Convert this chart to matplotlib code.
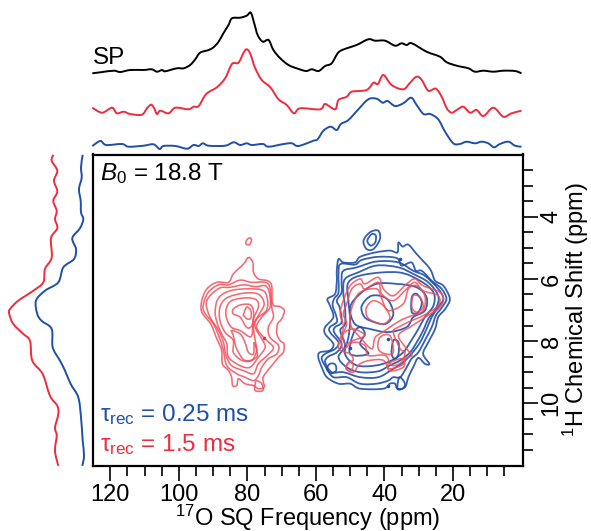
import numpy as np
import matplotlib
matplotlib.use('Agg')
import matplotlib.pyplot as plt
from matplotlib.path import Path
from matplotlib.patches import PathPatch

plt.rcParams['font.family'] = ['Liberation Sans', 'DejaVu Sans']
plt.rcParams['mathtext.fontset'] = 'custom'
plt.rcParams['mathtext.rm'] = 'Liberation Sans'
plt.rcParams['mathtext.it'] = 'Liberation Sans:italic'
plt.rcParams['mathtext.bf'] = 'Liberation Sans:bold'

# 17O projections: (ppm, intensity)
sp_trace = [(125.25,80.7),(122.9,81.7),(119.0,83.3),(117.1,82),(114.2,84),(110.3,84),(107.9,84.7),(106.4,82.3),(104.9,84),(104,82.7),(100.6,85.7),(98.6,85.7),(96.7,89),(95.2,94.7),(93.8,101.3),(91.3,104),(89.9,106.7),(88.4,112.3),(87.0,120.7),(85.5,129),(84.5,135.7),(82.1,136.3),(80.2,138.3),(79.0,141.3),(78.0,130.7),(77.0,119),(75.5,112.3),(73.8,114),(72.4,104),(70.4,95.7),(68.0,89),(65.6,85.7),(62.9,83),(61.2,84.7),(59.2,83),(57.3,88),(55.4,90.7),(53.4,101.7),(51.0,105.7),(48.1,109),(44.7,114.7),(42.7,113.3),(39.8,113.3),(36.9,108.3),(35.0,110.7),(33.5,109),(32.0,110.7),(27.7,102.3),(23.8,97.3),(21.8,91.7),(18.9,88.3),(15.5,85.7),(13.6,82.3),(11.1,83.3),(8.2,82.3),(5.3,83.3),(1.9,83),(0.0,80.7)]
red_top = [(125.25,46.3),(122.4,41.3),(119.5,46.3),(118.1,40.7),(116.1,42.3),(114.2,40),(110.8,39.3),(109.3,45.7),(108.1,49.3),(107.2,45.7),(106.4,40),(105.4,43.3),(103.0,40.7),(101.0,46.3),(97.2,44.7),(95.7,47.3),(94.2,48),(92.0,60),(88.9,66.7),(86.5,75.7),(84.5,90),(82.6,91.3),(81.1,101.3),(80.2,104.7),(79.2,100.7),(77.7,85.7),(75.8,74),(73.3,66.7),(70.9,54.7),(68.5,49),(66.4,40.7),(64.6,45.7),(58.8,44.7),(57.3,50),(54.4,44.7),(53.4,54),(51.0,57.3),(49.5,62.3),(45.2,64),(43.2,71.3),(41.9,70),(40.3,79),(37.9,69),(34.5,64.7),(32.5,71.3),(30.6,77.3),(29.1,74),(27.2,63.3),(25.0,65.3),(23.3,57.3),(21.8,45.7),(20.4,41.3),(18.9,44),(17.0,47.3),(15.0,41.3),(13.1,44),(11.1,38),(8.2,46.3),(5.3,37.3),(2.9,40.7),(0.0,43.3)]
blue_top = [(125.25,8),(122.9,13),(121.2,9),(116.6,10),(114.7,7.3),(110.3,8.3),(107.4,9.7),(105.6,5),(104.5,8),(101.0,8),(97.6,5.3),(95.7,9),(94.2,8),(93.0,10.7),(91.3,8.3),(86.5,8.3),(84.0,11.7),(82.1,9),(80.2,10.7),(78.7,9),(75.5,10),(73.8,7.3),(69.4,10),(67.0,10.7),(65.1,8),(60.7,13.3),(59.5,14.7),(57.8,23.3),(55.7,27.3),(53.9,24),(52.7,30),(50.5,34),(47.6,44.7),(44.7,54.7),(42.3,55.3),(40.5,51.3),(39.1,53),(36.9,48),(34.5,50.7),(32.2,56.3),(30.6,49),(28.6,40),(26.7,40),(24.3,34.7),(22.3,22.3),(19.9,10.7),(18.0,10),(16.0,12.3),(13.6,10.7),(11.6,12.3),(9.7,10.7),(8.0,6.7),(6.3,10),(3.8,12.3),(1.9,8.3),(0.0,7.3)]

# 1H projections: (intensity, ppm)
red_left = [(38.7,2.01),(40.3,2.2),(34.7,2.52),(38,2.84),(34.7,3.19),(38.7,3.49),(35.3,3.81),(37,4.08),(34.7,4.37),(41,4.69),(40.3,5.31),(47,5.68),(48.7,6.11),(58.7,6.38),(73.7,6.70),(82,6.97),(82.7,7.13),(78.7,7.45),(68.7,7.77),(62,7.99),(59.7,8.63),(49.3,9.06),(42,9.76),(34.7,10.08),(33.7,10.35),(37,10.78),(35.3,11.04),(37,11.53),(33.7,12.01)]
blue_left = [(9.3,2.01),(11,2.41),(10.3,2.74),(13,3.11),(11.3,3.49),(11,3.86),(8.7,4.08),(12,4.37),(19.7,4.69),(16,5.04),(18,5.36),(28.7,5.63),(33.7,6.11),(47,6.38),(56,6.70),(54.7,7.13),(50.3,7.35),(40.3,7.61),(39.3,8.20),(32,8.63),(27,8.95),(21.3,9.38),(13.7,9.81),(11,10.45),(9.3,11.2),(8,11.69),(9.7,12.01)]

# contour outlines: (17O ppm, 1H ppm)
red_contours = [
    [(79.7,5.31),(78.4,5.47),(78.2,5.79),(76.8,6.00),(74.1,6.06),(72.9,6.22),(72.6,6.81),(70.5,6.89),(69.2,7.02),(70.0,7.29),(71.2,7.45),(71.4,7.77),(70.3,8.00),(69.3,8.09),(69.5,8.36),(70.9,8.52),(72.9,8.79),(74.8,9.05),(75.5,9.21),(75.1,9.48),(76.8,9.53),(78.2,9.43),(80.7,9.37),(82.6,9.21),(83.1,9.43),(84.3,9.43),(84.6,9.16),(85.5,8.95),(87.3,8.73),(87.5,8.30),(88.9,7.93),(90.7,7.45),(93.3,7.07),(93.3,6.70),(91.8,6.32),(88.9,6.11),(85.5,6.11),(84.1,5.84),(81.1,5.52)],
    [(92.8,6.81),(91.4,6.43),(88.4,6.19),(85.5,6.19),(82.1,6.04),(78.7,6.11),(74.8,6.11),(73.4,6.29),(72.9,6.91),(72.4,7.23),(73.9,7.56),(73.4,7.88),(70.9,8.14),(71.4,8.41),(73.9,8.57),(75.8,8.84),(76.8,9.11),(78.2,9.27),(80.7,9.16),(83.1,9.05),(86.0,8.79),(87.0,8.30),(88.2,7.88),(89.9,7.45),(92.6,7.07)],
    [(92.0,6.81),(90.9,6.54),(88.0,6.29),(85.0,6.27),(81.1,6.19),(77.7,6.25),(74.8,6.22),(73.6,6.43),(73.4,6.91),(75.8,7.23),(77.3,7.56),(74.8,7.93),(72.4,8.20),(73.9,8.43),(76.8,8.73),(78.2,9.05),(81.1,8.95),(84.6,8.79),(86.2,8.46),(87.0,8.04),(88.4,7.66),(90.9,7.23)],
    [(89.4,7.02),(88.4,6.61),(85.0,6.38),(79.7,6.32),(75.3,6.38),(74.1,6.70),(74.5,7.02),(77.3,7.29),(77.7,7.56),(75.8,7.93),(74.8,8.20),(76.8,8.52),(79.2,8.84),(82.1,8.79),(85.5,8.52),(86.0,8.09),(87.5,7.77),(88.9,7.39)],
    [(88.0,6.91),(86.0,6.61),(81.1,6.46),(76.8,6.49),(75.1,6.81),(76.8,7.18),(78.2,7.50),(77.7,7.98),(77.3,8.30),(78.7,8.62),(81.6,8.62),(84.1,8.36),(84.1,7.98),(86.5,7.72),(88.0,7.34)],
    [(86.2,6.97),(84.6,6.70),(80.2,6.61),(77.3,6.68),(76.8,6.91),(78.2,7.29),(78.9,7.85),(82.1,7.66),(84.6,7.56),(86.0,7.29)],
    [(84.1,6.97),(82.1,6.84),(79.2,6.83),(78.2,7.07),(78.7,7.50),(80.2,7.56),(82.1,7.23),(84.1,7.13)],
    [(81.1,7.13),(80.2,6.91),(79.0,7.02),(79.0,7.26),(80.0,7.29),(81.1,7.18)],
    [(84.6,7.66),(82.1,7.77),(80.7,8.04),(79.7,8.36),(78.2,8.41),(78.0,8.04),(77.2,8.50),(80.7,8.62),(83.1,8.25),(84.1,7.82)],
    [(77.3,9.27),(75.8,9.37),(75.5,9.59),(77.7,9.59),(77.7,9.37)],
    [(80.4,4.88),(80.2,4.75),(79.2,4.68),(78.8,4.77),(79.4,4.90)],
    [(52.0,6.70),(50.0,6.22),(47.1,6.00),(45.7,6.16),(41.8,5.95),(40.3,6.32),(37.4,6.54),(33.5,6.16),(31.1,6.00),(28.7,6.22),(23.8,6.43),(22.8,6.70),(24.3,6.97),(26.7,7.13),(29.6,7.34),(32.5,7.55),(35.9,7.82),(33.5,8.25),(32.0,8.46),(34.0,8.57),(34.5,8.84),(38.4,8.95),(40.3,8.62),(44.2,8.62),(47.1,8.73),(49.1,9.00),(51.2,8.89),(50.5,8.68),(49.1,8.62),(50.0,8.41),(52.9,8.30),(53.4,8.09),(52.0,7.55),(52.9,7.13)],
    [(51.0,6.80),(49.5,6.32),(47.1,6.16),(45.7,6.32),(41.8,6.11),(40.8,6.48),(37.4,6.70),(33.5,6.32),(31.1,6.11),(28.7,6.38),(24.3,6.54),(24.3,6.86),(28.7,7.18),(32.0,7.34),(35.9,7.55),(37.4,7.71),(35.4,8.25),(34.0,8.36),(35.0,8.68),(37.9,8.78),(39.8,8.46),(44.7,8.46),(45.7,8.14),(49.1,8.04),(52.0,8.25),(52.5,7.88),(51.0,7.45),(52.0,7.13)],
    [(49.1,6.80),(47.1,6.43),(42.3,6.32),(40.8,6.64),(38.9,7.02),(34.5,6.80),(33.0,6.32),(30.6,6.22),(28.2,6.54),(28.7,7.02),(32.0,7.18),(35.4,7.34),(39.8,7.66),(42.7,7.88),(43.7,8.25),(47.1,7.88),(49.6,7.55),(50.0,7.18)],
    [(45.2,6.91),(43.2,6.70),(40.3,6.86),(38.4,7.23),(40.3,7.45),(43.7,7.34),(45.2,7.18)],
    [(32.0,6.91),(31.6,6.54),(29.6,6.59),(28.7,6.91),(30.6,7.07)],
    [(51.2,8.84),(50.0,8.68),(49.1,8.78),(50.0,8.97)],
    [(38.9,8.73),(35.5,8.57),(34.0,8.62),(35.0,8.78),(38.4,8.89)],
    [(52.0,7.77),(49.1,7.61),(45.7,7.82),(49.1,7.98),(51.5,8.09)],
    [(41.3,7.88),(38.4,7.82),(37.4,8.36),(39.8,8.41),(41.8,8.25)],
]
blue_contours = [
    [(53.4,5.36),(52.0,5.47),(48.6,5.47),(47.1,5.29),(42.7,5.15),(38.4,5.09),(36.2,5.15),(35.9,4.83),(34.7,4.96),(33.0,4.90),(30.6,5.20),(26.7,5.68),(25.2,6.06),(22.8,6.22),(20.9,6.64),(22.3,6.97),(24.3,7.23),(25.2,7.61),(27.2,8.04),(28.7,8.41),(26.9,8.73),(28.2,8.73),(30.1,8.54),(31.6,8.84),(33.0,9.16),(34.0,9.48),(36.2,9.53),(36.9,9.37),(38.4,9.37),(40.3,9.53),(47.1,9.53),(50.0,9.37),(53.4,9.37),(56.8,9.16),(58.3,8.84),(59.3,8.52),(58.8,8.36),(55.9,8.30),(54.9,8.09),(57.3,7.77),(57.3,7.55),(54.9,7.23),(55.9,6.86),(56.6,6.64),(54.4,6.48),(53.9,6.06),(53.9,5.74)],
    [(52.8,5.52),(48.6,5.54),(46.6,5.39),(41.8,5.29),(36.4,5.33),(35.0,5.57),(32.1,5.47),(30.8,5.74),(29.1,5.74),(26.2,6.06),(23.3,6.32),(21.9,6.64),(23.3,6.93),(25.0,7.18),(26.2,7.55),(28.2,7.98),(30.1,8.36),(32.1,8.57),(33.5,8.84),(35.4,9.16),(37.4,9.16),(38.9,9.27),(42.3,9.37),(47.1,9.37),(51.0,9.16),(54.9,9.16),(56.8,8.89),(58.3,8.57),(57.3,8.41),(54.4,8.25),(53.4,8.04),(55.9,7.71),(55.9,7.55),(53.9,7.39),(54.1,7.18),(55.1,6.86),(54.7,6.64),(53.4,6.43),(53.4,5.84)],
    [(52.0,5.74),(48.1,5.63),(42.3,5.44),(35.9,5.47),(31.6,5.74),(28.2,5.90),(24.3,6.32),(22.8,6.64),(24.3,6.91),(26.2,7.23),(27.7,7.61),(29.6,8.04),(32.1,8.41),(34.5,8.68),(37.4,8.89),(41.8,9.16),(47.1,9.16),(52.0,9.00),(55.4,9.00),(57.3,8.68),(56.4,8.50),(53.9,8.36),(52.5,8.09),(54.7,7.71),(54.4,7.55),(52.5,7.39),(53.1,6.91),(53.9,6.70),(52.5,6.43),(52.5,6.06)],
    [(51.5,6.00),(47.6,5.79),(42.3,5.57),(35.9,5.63),(31.6,5.84),(27.2,6.11),(24.3,6.54),(24.8,6.91),(27.2,7.29),(28.7,7.66),(30.6,8.04),(32.5,8.36),(35.4,8.62),(38.4,8.78),(41.8,8.97),(47.1,9.00),(51.0,8.84),(53.4,8.52),(51.5,8.14),(52.9,7.66),(51.5,7.45),(51.5,6.91),(52.0,6.43)],
    [(50.5,6.11),(45.7,5.86),(35.9,5.79),(29.6,6.06),(25.7,6.43),(25.7,6.86),(28.2,7.23),(30.1,7.61),(32.5,8.04),(34.5,8.36),(37.9,8.62),(42.3,8.78),(48.1,8.78),(51.5,8.41),(50.5,7.88),(50.0,7.34),(50.5,6.70)],
    [(50.0,6.91),(47.1,6.48),(42.3,6.16),(36.4,6.16),(30.6,6.27),(27.7,6.59),(28.2,7.02),(31.6,7.23),(33.5,7.55),(38.9,7.71),(44.2,7.61),(48.6,7.45)],
    [(32.0,6.59),(30.6,6.48),(29.1,6.75),(30.1,7.07),(32.0,7.07)],
    [(46.6,6.86),(43.7,6.54),(39.3,6.64),(37.4,7.13),(39.8,7.45),(44.2,7.34),(46.1,7.18)],
    [(49.1,7.77),(47.1,7.55),(45.7,7.77),(47.1,8.09),(44.7,8.41),(50.0,8.41)],
    [(37.9,8.41),(37.4,7.98),(35.9,8.04),(35.9,8.41),(36.9,8.57)],
    [(46.1,4.77),(44.2,4.50),(41.8,4.45),(41.3,4.72),(43.2,5.04),(45.2,5.04)],
    [(45.0,4.77),(43.7,4.56),(42.5,4.61),(42.7,4.83),(44.0,4.93)],
    [(56.8,8.89),(55.9,8.73),(54.4,8.75),(54.1,8.95),(55.7,9.03)],
    [(36.2,9.53),(35.6,9.16),(34.0,9.37),(34.7,9.53)],
]
red_dots = [(75.1,7.89)]
blue_dots = [(50.0,8.22),(35.5,5.36),(39.1,7.93),(38.9,9.45)]

x_major = [120, 100, 80, 60, 40, 20]
y_major = [4, 6, 8, 10]

BLUE = '#1f4fa8'
RED = '#f02b3c'
W, H = 591, 531


def px_axes(fig, left, top, right, bottom):
    return fig.add_axes([left / W, 1 - bottom / H, (right - left) / W, (bottom - top) / H])


def smooth_path(points, closed=False):
    # bezier segments through the points themselves (Catmull-Rom handles)
    pts = np.array(points, dtype=float)
    if closed:
        pts = np.vstack([pts, pts[:1]])
        before = np.vstack([pts[-2:-1], pts[:-1]])
        after = np.vstack([pts[1:], pts[1:2]])
    else:
        before = np.vstack([pts[:1], pts[:-1]])
        after = np.vstack([pts[1:], pts[-1:]])
    tangent = (after - before) / 6
    verts = [pts[0]]
    codes = [Path.MOVETO]
    for i in range(len(pts) - 1):
        verts += [pts[i] + tangent[i], pts[i + 1] - tangent[i + 1], pts[i + 1]]
        codes += [Path.CURVE4] * 3
    return Path(verts, codes)


def draw_trace(axis, points, color):
    axis.add_patch(PathPatch(smooth_path(points), fill=False, ec=color, lw=1.4, clip_on=False))


fig = plt.figure(figsize=(W / 100, H / 100), dpi=100)

ax = px_axes(fig, 92.5, 154.5, 522.5, 465.5)
ax.set_xlim(125.2, -0.3)
ax.set_ylim(12, 2)

for outline in blue_contours:
    ax.add_patch(PathPatch(smooth_path(outline, closed=True), fill=False, ec=BLUE, lw=1.3, alpha=0.9))
for outline in red_contours:
    ax.add_patch(PathPatch(smooth_path(outline, closed=True), fill=False, ec='#f0505c', lw=1.15, alpha=0.85))
ax.plot(*zip(*blue_dots), ls='none', marker='o', ms=1.5, color=BLUE)
ax.plot(*zip(*red_dots), ls='none', marker='o', ms=1.5, color=RED)

for side in ax.spines.values():
    side.set_linewidth(1.6)
ax.yaxis.tick_right()
ax.yaxis.set_label_position('right')
ax.set_xticks(x_major)
ax.set_xticks(np.arange(5, 125, 5), minor=True)
ax.set_yticks(y_major)
ax.set_yticks(np.arange(2.5, 12, 0.5), minor=True)
ax.tick_params(which='major', length=11, width=1.2, labelsize=17)
ax.tick_params(which='minor', length=7, width=1.2)
ax.tick_params(axis='x', which='major', pad=2)
ax.tick_params(axis='y', which='major', pad=2)
for lab in ax.get_yticklabels():
    lab.set_rotation(90)
    lab.set_va('center')
ax.set_xlabel(r'$^{17}$O SQ Frequency (ppm)', fontsize=17, labelpad=-2)
ax.set_ylabel(r'$^{1}$H Chemical Shift (ppm)', fontsize=17, labelpad=-1.5)

ax.text(0.018, 0.94, r'$\mathit{B}_{0}$ = 18.8 T', transform=ax.transAxes, fontsize=17.5, va='center')
ax.text(0.018, 0.165, r'τ$_{\mathrm{rec}}$ = 0.25 ms', transform=ax.transAxes, fontsize=17.5, va='center', color=BLUE)
ax.text(0.018, 0.068, r'τ$_{\mathrm{rec}}$ = 1.5 ms', transform=ax.transAxes, fontsize=17.5, va='center', color=RED)

top = px_axes(fig, 92.5, 0, 522.5, 154)
top.set_xlim(125.2, -0.3)
top.set_ylim(0, 154)
top.axis('off')
draw_trace(top, sp_trace, 'black')
draw_trace(top, red_top, RED)
draw_trace(top, blue_top, BLUE)
top.text(0.0, 96, 'SP', transform=top.get_yaxis_transform(), fontsize=17.5, va='center', ha='left')

left = px_axes(fig, 0, 154.5, 92, 465.5)
left.set_xlim(92, 0)
left.set_ylim(12, 2)
left.axis('off')
draw_trace(left, red_left, RED)
draw_trace(left, blue_left, BLUE)

fig.savefig('out.png', dpi=100)
